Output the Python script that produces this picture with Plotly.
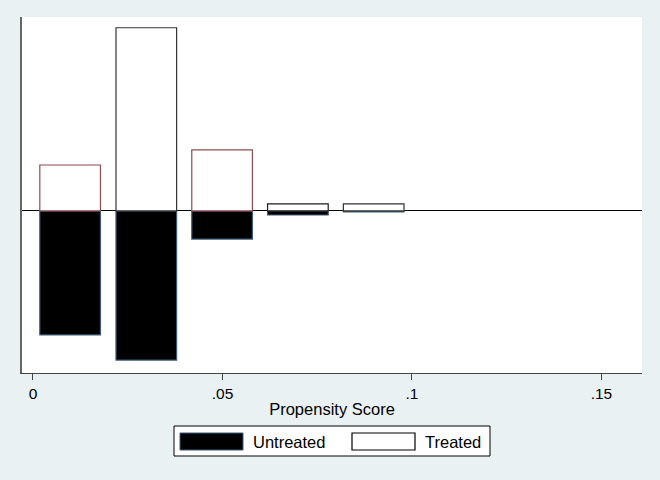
import plotly.graph_objects as go

# Propensity score bins (centres) and bar heights
bin_centres = [0.0098, 0.0299, 0.0499, 0.0699, 0.0899]
treated = [12.4, 49.5, 16.5, 1.9, 1.9]
untreated = [33.5, 40.3, 7.6, 1.1, 0.3]

tick_vals = [0, 0.05, 0.1, 0.15]
tick_text = ["0", ".05", ".1", ".15"]

bg = "#eaf1f3"
font = "Liberation Sans, Arial, sans-serif"

fig = go.Figure()

fig.add_trace(go.Bar(
    x=bin_centres,
    y=[-v for v in untreated],
    width=0.016,
    name="Untreated",
    marker=dict(color="black", line=dict(color="#3d5a78", width=1.2)),
    showlegend=False,
))

fig.add_trace(go.Bar(
    x=bin_centres,
    y=treated,
    width=0.016,
    name="Treated",
    marker=dict(
        color="white",
        line=dict(color=["#8e4b52", "#333333", "#8e4b52", "#1a1a1a", "#333333"], width=1.2),
    ),
    showlegend=False,
))

fig.update_layout(
    width=660,
    height=480,
    paper_bgcolor=bg,
    plot_bgcolor="white",
    barmode="overlay",
    margin=dict(l=22, r=18, t=17, b=107),
    font=dict(family=font, size=15, color="black"),
    xaxis=dict(
        range=[-0.0029, 0.1607],
        tickvals=tick_vals,
        ticktext=tick_text,
        ticks="outside",
        ticklen=6,
        tickcolor="#444444",
        showline=True,
        linecolor="#444444",
        linewidth=1,
        showgrid=False,
        zeroline=False,
        tickfont=dict(size=15.5),
        title=dict(text="Propensity Score", font=dict(size=16.5), standoff=2),
    ),
    yaxis=dict(
        range=[-43.8, 52.4],
        showticklabels=False,
        ticks="",
        showline=True,
        linecolor="#666666",
        linewidth=1.5,
        showgrid=False,
        zeroline=True,
        zerolinecolor="black",
        zerolinewidth=1,
    ),
)

# Legend drawn as a boxed key below the axis
fig.add_shape(type="rect", xref="paper", yref="paper",
              x0=(174 - 22) / 620, x1=(490 - 22) / 620,
              y0=-(456 - 373) / 356, y1=-(426 - 373) / 356,
              fillcolor="white", line=dict(color="black", width=1))
fig.add_shape(type="rect", xref="paper", yref="paper",
              x0=(180 - 22) / 620, x1=(243 - 22) / 620,
              y0=-(450 - 373) / 356, y1=-(433 - 373) / 356,
              fillcolor="black", line=dict(color="#3d5a78", width=1))
fig.add_shape(type="rect", xref="paper", yref="paper",
              x0=(352 - 22) / 620, x1=(415 - 22) / 620,
              y0=-(450 - 373) / 356, y1=-(433 - 373) / 356,
              fillcolor="white", line=dict(color="black", width=1.2))
fig.add_annotation(xref="paper", yref="paper", x=(251 - 22) / 620, y=-(441.5 - 373) / 356,
                   text="Untreated", showarrow=False, xanchor="left", yanchor="middle",
                   font=dict(size=16.5))
fig.add_annotation(xref="paper", yref="paper", x=(423 - 22) / 620, y=-(441.5 - 373) / 356,
                   text="Treated", showarrow=False, xanchor="left", yanchor="middle",
                   font=dict(size=16.5))

fig.write_html("out.html", config={"displayModeBar": False},
               post_script="document.body.style.margin='0';")
